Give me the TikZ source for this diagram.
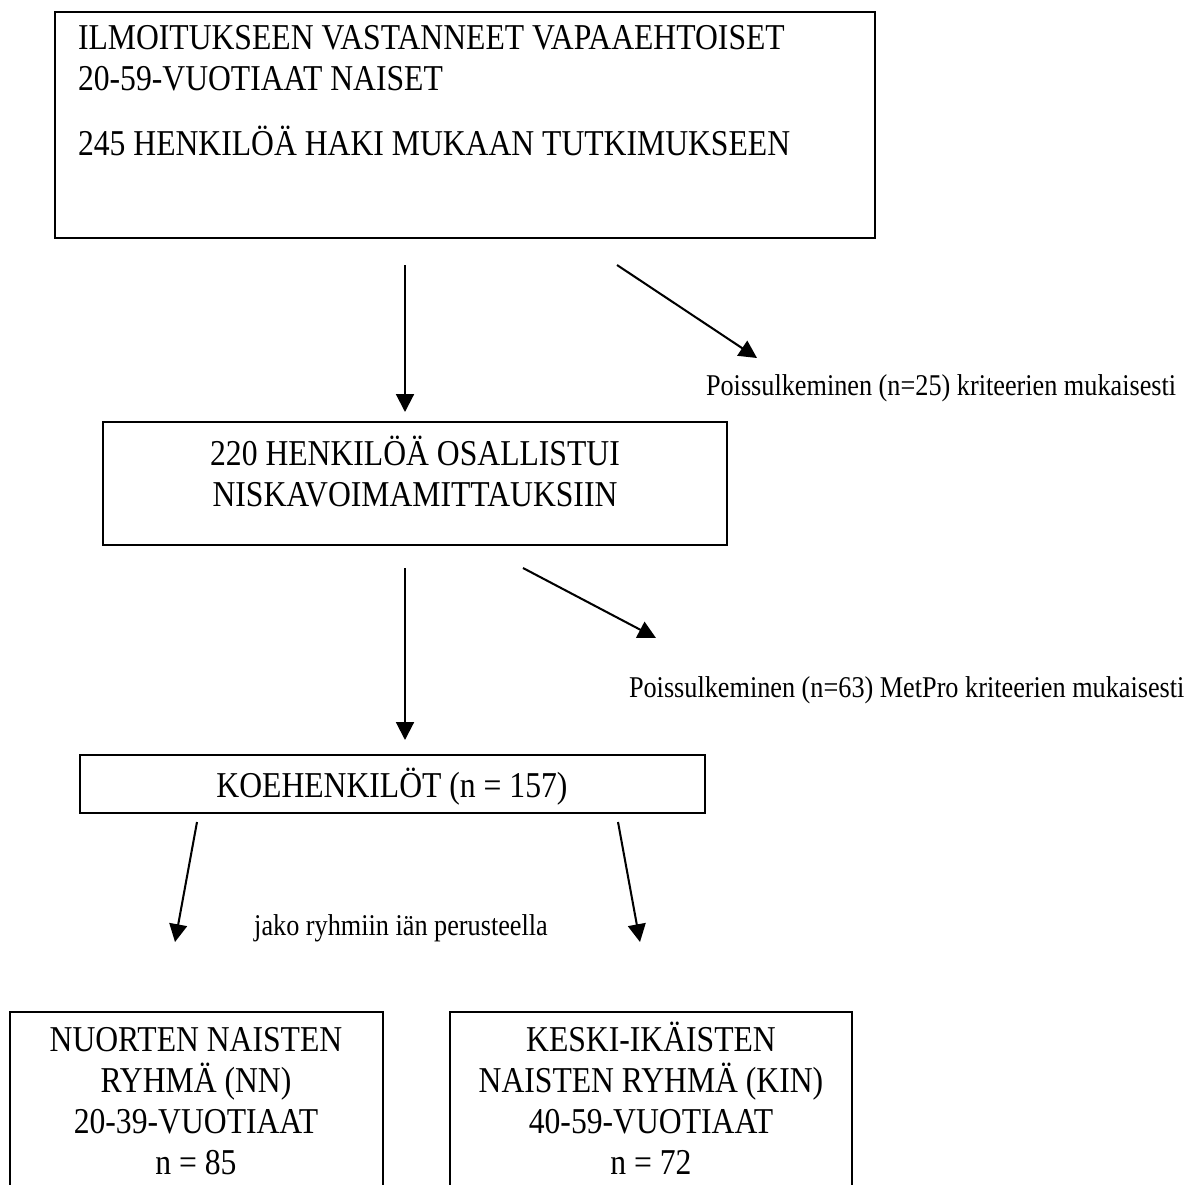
\documentclass[tikz,border=0pt]{standalone}
\usepackage{fontspec}
\setmainfont{Liberation Serif}[FakeStretch=0.87]
\usetikzlibrary{arrows.meta,fit}

\newcommand{\firstline}{\rule{0pt}{12pt}}

\begin{document}
\begin{tikzpicture}[x=0.393pt, y=-0.393pt, >={Triangle[length=7pt,width=7pt]}, line width=0.8pt,
    frame/.style={draw, inner sep=0pt, fit={#1}},
    boxtext/.style={font=\fontsize{14.3}{16.1}\selectfont, inner sep=0pt},
    note/.style={font=\fontsize{11.85}{13.6}\selectfont, inner sep=0pt, anchor=base west}]

        % Page size and cut at the lower edge
        \useasboundingbox (0,0) rectangle (1198,1184);
        \clip (0,0) rectangle (1198,1184);

        % Volunteers
        \node[frame={(55,12) (875,238)}] (intro) {};
        \node[boxtext, anchor=north west, align=left] (introtxt) at (77,18) {\firstline ILMOITUKSEEN VASTANNEET VAPAAEHTOISET\\ 20-59-VUOTIAAT NAISET\\[9.4pt] 245 HENKILÖÄ HAKI MUKAAN TUTKIMUKSEEN};

        % Measured
        \node[frame={(103,422) (727,545)}] (measured) {};
        \node[boxtext, anchor=north, align=center] (measuredtxt) at (415,434) {\firstline 220 HENKILÖÄ OSALLISTUI\\ NISKAVOIMAMITTAUKSIIN};

        % Subjects
        \node[frame={(80,755) (705,813)}] (subjects) {};
        \node[boxtext, anchor=base] (subjectstxt) at (392,797) {KOEHENKILÖT (n = 157)};

        % Age groups (boxes run past the lower edge)
        \node[frame={(10,1012) (383,1240)}] (young) {};
        \node[boxtext, anchor=north, align=center] (youngtxt) at (196,1020) {\firstline NUORTEN NAISTEN\\ RYHMÄ (NN)\\ 20-39-VUOTIAAT\\ n = 85};
        \node[frame={(450,1012) (852,1240)}] (middle) {};
        \node[boxtext, anchor=north, align=center] (middletxt) at (651,1020) {\firstline KESKI-IKÄISTEN\\ NAISTEN RYHMÄ (KIN)\\ 40-59-VUOTIAAT\\ n = 72};

        % Exclusions and split labels
        \node[note] (excl1) at (705,395) {Poissulkeminen (n=25) kriteerien mukaisesti};
        \node[note] (excl2) at (628,697) {Poissulkeminen (n=63) MetPro kriteerien mukaisesti};
        \node[note, anchor=base] (split) at (401,935) {jako ryhmiin iän perusteella};

        % Arrow ends
        \coordinate (down1s) at (405,265);
        \coordinate (down1e) at (405,412);
        \coordinate (out1s) at (617,265);
        \coordinate (out1e) at (757,358);
        \coordinate (down2s) at (405,568);
        \coordinate (down2e) at (405,740);
        \coordinate (out2s) at (523,568);
        \coordinate (out2e) at (656,638);
        \coordinate (lefts) at (197,822);
        \coordinate (lefte) at (175,942);
        \coordinate (rights) at (618,822);
        \coordinate (righte) at (640,942);

        % Arrows
        \draw[->] (down1s) -- (down1e);
        \draw[->] (out1s) -- (out1e);
        \draw[->] (down2s) -- (down2e);
        \draw[->] (out2s) -- (out2e);
        \draw[->] (lefts) -- (lefte);
        \draw[->] (rights) -- (righte);

\end{tikzpicture}
\end{document}
